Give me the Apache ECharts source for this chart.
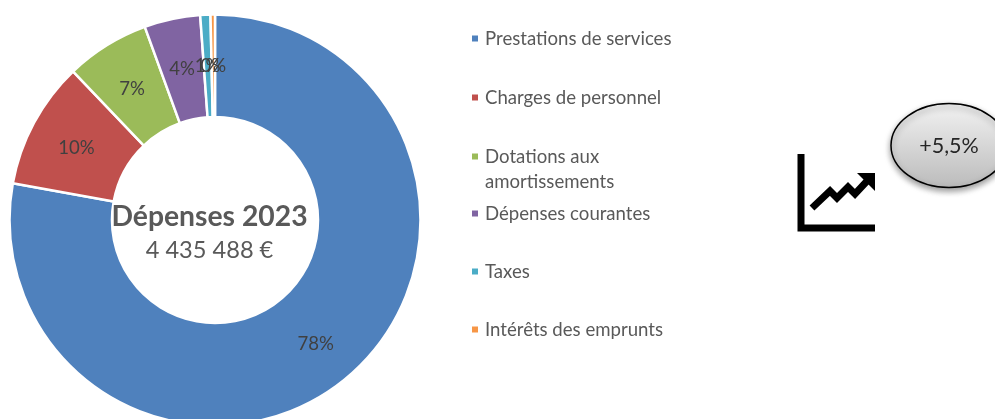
<!DOCTYPE html>
<html><head><meta charset="utf-8">
<style>html,body{margin:0;padding:0;background:#fff}#c{width:995px;height:419px}</style>
<script src="https://cdn.jsdelivr.net/npm/echarts@6/dist/echarts.min.js"></script>
</head><body><div id="c"></div>
<script>
const categories = ['Prestations de services','Charges de personnel','Dotations aux amortissements','Dépenses courantes','Taxes','Intérêts des emprunts'];
const legendLabels = ['Prestations de services','Charges de personnel','\nDotations aux\namortissements','Dépenses courantes','Taxes','Intérêts des emprunts'];
const values = [77.9,10,6.6,4.4,0.8,0.35];
const colors = ['#4F81BD','#C0504D','#9BBB59','#8064A2','#4BACC6','#F79646'];
const legendY = [38,97,155,213,271,329];
const FONT = 'Lato';
const chart = echarts.init(document.getElementById('c'));
chart.setOption({
  animation:false,
  color:colors,
  title:[
    {text:'Dépenses 2023',left:204.5,top:198,textAlign:'center',textStyle:{fontFamily:FONT,fontSize:28.3,fontWeight:'bold',color:'#595959'}},
    {text:'4 435 488 €',left:204.5,top:233,textAlign:'center',textStyle:{fontFamily:FONT,fontSize:23.6,fontWeight:'normal',color:'#595959'}}
  ],
  legend:categories.map((n,i)=>({
    data:[n],orient:'vertical',left:470,
    top:legendY[i]-(i===2?36:12),
    itemWidth:8,itemHeight:8,icon:'rect',itemGap:0,padding:0,
    formatter:()=>legendLabels[i],
    textStyle:{fontFamily:FONT,fontSize:18.6,color:'#595959',lineHeight:25,padding:[0,0,0,1]},
    selectedMode:false
  })),
  series:[{
    type:'pie',center:[215,220],radius:[103,205.5],startAngle:90,clockwise:true,
    avoidLabelOverlap:false,minShowLabelAngle:0,
    labelLayout:{hideOverlap:false,dy:3},
    itemStyle:{borderColor:'#fff',borderWidth:2.5},
    label:{show:true,position:'inside',formatter:p=>Math.round(p.value)+'%',fontFamily:FONT,fontSize:18.6,color:'#404040'},
    labelLine:{show:false},
    emphasis:{disabled:true},
    data:categories.map((n,i)=>({name:n,value:values[i]}))
  }],
  graphic:[
    {type:'ellipse',shape:{cx:949,cy:145.5,rx:58,ry:42},z:5,
     style:{fill:new echarts.graphic.LinearGradient(0,0,0,1,[{offset:0,color:'#F2F2F2'},{offset:1,color:'#BBBBBB'}]),stroke:'#000',lineWidth:1.5,shadowBlur:6,shadowOffsetY:3,shadowColor:'rgba(0,0,0,0.4)'}},
    {type:'text',z:6,style:{text:'+5,5%',x:949,y:146,align:'center',verticalAlign:'middle',fontFamily:FONT,fontSize:21.5,fill:'#262626'}},
    {type:'polyline',z:5,shape:{points:[[801,154],[801,228],[875,228]]},style:{stroke:'#000',lineWidth:7,fill:null}},
    {type:'polyline',z:5,shape:{points:[[812,208],[830,191],[837,198],[848,187],[855,194],[868,180]]},style:{stroke:'#000',lineWidth:7,fill:null}},
    {type:'polygon',z:5,shape:{points:[[857,173],[875,173],[875,191]]},style:{fill:'#000'}}
  ]
});
</script></body></html>
